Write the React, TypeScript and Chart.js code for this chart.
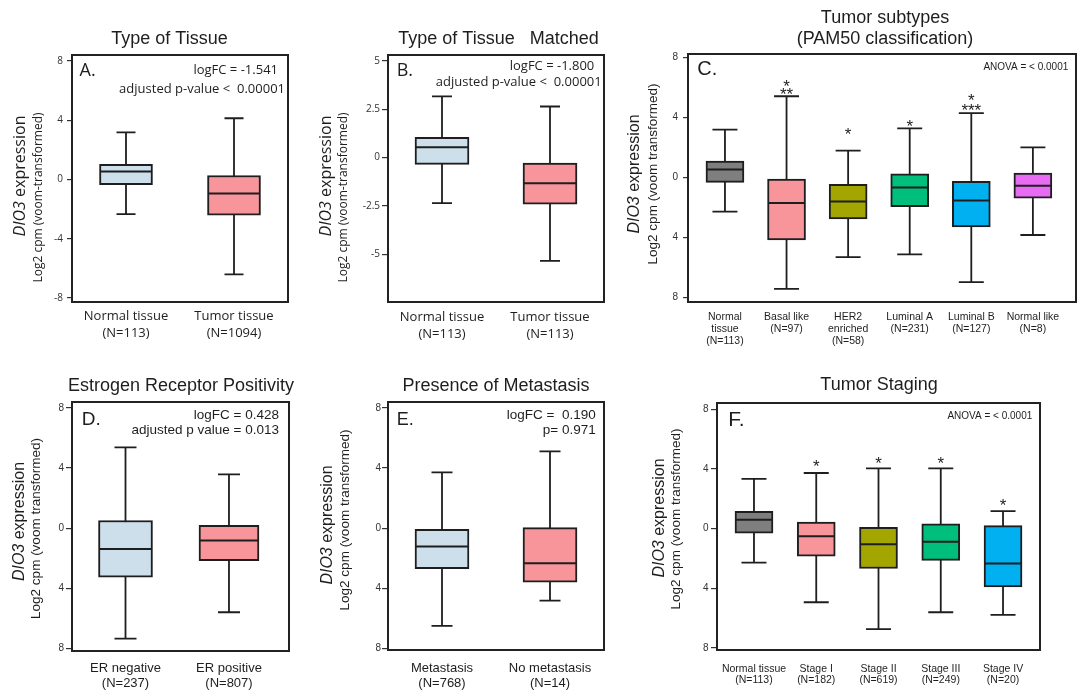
import React, { useEffect, useRef } from "react";
import { Chart, registerables } from "chart.js";
Chart.register(...registerables);

// ---------- Panel A: Type of Tissue ----------
const A_CATS = [["Normal tissue", "(N=113)"], ["Tumor tissue", "(N=1094)"]];
const A_MIN = [-2.34, -6.4];
const A_Q1 = [-0.34, -2.41];
const A_MED = [0.54, -0.95];
const A_Q3 = [1.03, 0.27];
const A_MAX = [3.18, 4.14];
const A_TICKS = [8, 4, 0, -4, -8];
const A_TICK_LABELS = ["8", "4", "0", "-4", "-8"];

// ---------- Panel B: Type of Tissue Matched ----------
const B_CATS = [["Normal tissue", "(N=113)"], ["Tumor tissue", "(N=113)"]];
const B_MIN = [-2.35, -5.34];
const B_Q1 = [-0.35, -2.4];
const B_MED = [0.53, -1.33];
const B_Q3 = [1.05, -0.28];
const B_MAX = [3.16, 2.64];
const B_TICKS = [5, 2.5, 0, -2.5, -5];
const B_TICK_LABELS = ["5", "2.5", "0", "-2.5", "-5"];

// ---------- Panel C: Tumor subtypes (PAM50) ----------
const C_CATS = [
  ["Normal", "tissue", "(N=113)"],
  ["Basal like", "(N=97)"],
  ["HER2", "enriched", "(N=58)"],
  ["Luminal A", "(N=231)"],
  ["Luminal B", "(N=127)"],
  ["Normal like", "(N=8)"],
];
const C_MIN = [-2.28, -7.43, -5.31, -5.13, -6.99, -3.84];
const C_Q1 = [-0.33, -4.17, -2.77, -1.94, -3.3, -1.38];
const C_MED = [0.54, -1.7, -1.61, -0.67, -1.54, -0.56];
const C_Q3 = [1.09, -0.11, -0.45, 0.25, -0.25, 0.29];
const C_MAX = [3.19, 5.42, 1.79, 3.28, 4.29, 2.01];
const C_TICKS = [8, 4, 0, -4, -8];
const C_TICK_LABELS = ["8", "4", "0", "4", "8"];
const C_STAR_CATS = [1, 1, 2, 3, 4, 4];
const C_STAR_TEXT = ["*", "**", "*", "*", "*", "***"];
const C_STAR_Y = [6.38, 5.83, 3.15, 3.68, 5.42, 4.75];

// ---------- Panel D: Estrogen Receptor Positivity ----------
const D_CATS = [["ER negative", "(N=237)"], ["ER positive", "(N=807)"]];
const D_MIN = [-7.36, -5.6];
const D_Q1 = [-3.27, -2.16];
const D_MED = [-1.38, -0.82];
const D_Q3 = [0.51, 0.18];
const D_MAX = [5.38, 3.58];
const D_TICKS = [8, 4, 0, -4, -8];
const D_TICK_LABELS = ["8", "4", "0", "4", "8"];

// ---------- Panel E: Presence of Metastasis ----------
const E_CATS = [["Metastasis", "(N=768)"], ["No metastasis", "(N=14)"]];
const E_MIN = [-6.51, -4.82];
const E_Q1 = [-2.69, -3.6];
const E_MED = [-1.22, -2.33];
const E_Q3 = [-0.07, 0.04];
const E_MAX = [3.71, 5.11];
const E_TICKS = [8, 4, 0, -4, -8];
const E_TICK_LABELS = ["8", "4", "0", "4", "8"];

// ---------- Panel F: Tumor Staging ----------
const F_CATS = [
  ["Normal tissue", "(N=113)"],
  ["Stage I", "(N=182)"],
  ["Stage II", "(N=619)"],
  ["Stage III", "(N=249)"],
  ["Stage IV", "(N=20)"],
];
const F_MIN = [-2.27, -4.93, -6.73, -5.6, -5.78];
const F_Q1 = [-0.31, -1.84, -2.67, -2.13, -3.91];
const F_MED = [0.6, -0.51, -1.04, -0.87, -2.34];
const F_Q3 = [1.16, 0.44, 0.09, 0.33, 0.2];
const F_MAX = [3.33, 3.73, 4.04, 4.04, 1.18];
const F_TICKS = [8, 4, 0, -4, -8];
const F_TICK_LABELS = ["8", "4", "0", "4", "8"];
const F_STAR_CATS = [1, 2, 3, 4];
const F_STAR_TEXT = ["*", "*", "*", "*"];
const F_STAR_Y = [4.49, 4.64, 4.64, 1.82];

const OPEN = '"Open Sans", sans-serif';
const ARIAL = '"Liberation Sans", Arial, sans-serif';
const PAIR = ["#cddfea", "#f8959a"];
const SUB = ["#7f7f7f", "#f8959a", "#a3a500", "#00bf7d", "#00b0f0", "#e76bf3"];
const Y_W = 40;
const STAR_SIZE = 17;

type Txt = { t: string; x: number; y: number; size: number; family: string; align: CanvasTextAlign };
type Cfg = {
  id: string;
  canvas: { x: number; y: number; w: number; h: number };
  frame: { l: number; t: number; r: number; b: number };
  xMin: number; xMax: number; yMin: number; yMax: number;
  cats: string[][]; lo: number[]; q1: number[]; med: number[]; q3: number[]; hi: number[];
  colors: string[]; boxW: number[]; capW: number;
  yTicks: number[]; yTickLabels: string[];
  family: string; tickSize: number; tickLen: number; tickPad: number;
  xFamily: string; xSize: number; xLineHeight: number; xPad: number;
  texts: Txt[];
  yTitle: { x1: number; y1: number; x2: number; y2: number; s1: number; s2: number; family: string; line2: string };
  starCats?: number[]; starText?: string[]; starY?: number[];
};

const PANELS: Cfg[] = [
  {
    id: "A", canvas: { x: 0, y: 0, w: 305, h: 350 }, frame: { l: 72, t: 55, r: 288, b: 302 },
    xMin: -0.5, xMax: 1.5, yMin: -8.27, yMax: 8.41,
    cats: A_CATS, lo: A_MIN, q1: A_Q1, med: A_MED, q3: A_Q3, hi: A_MAX,
    colors: PAIR, boxW: [53, 53], capW: 19, yTicks: A_TICKS, yTickLabels: A_TICK_LABELS,
    family: OPEN, tickSize: 10, tickLen: 5, tickPad: 4,
    xFamily: OPEN, xSize: 13, xLineHeight: 1.36, xPad: 5,
    texts: [
      { t: "Type of Tissue", x: 169.5, y: 44, size: 18, family: ARIAL, align: "center" },
      { t: "A.", x: 79.5, y: 76, size: 18, family: OPEN, align: "left" },
      { t: "logFC = -1.541", x: 278, y: 74, size: 13, family: OPEN, align: "right" },
      { t: "adjusted p-value <  0.00001", x: 285, y: 93, size: 13, family: OPEN, align: "right" },
    ],
    yTitle: { x1: 20, y1: 176, x2: 38.5, y2: 197.5, s1: 16, s2: 12, family: OPEN, line2: "Log2 cpm (voom-transformed)" },
  },
  {
    id: "B", canvas: { x: 305, y: 0, w: 310, h: 350 }, frame: { l: 388, t: 55, r: 604, b: 302 },
    xMin: -0.5, xMax: 1.5, yMin: -7.46, yMax: 5.3,
    cats: B_CATS, lo: B_MIN, q1: B_Q1, med: B_MED, q3: B_Q3, hi: B_MAX,
    colors: PAIR, boxW: [54, 54], capW: 20, yTicks: B_TICKS, yTickLabels: B_TICK_LABELS,
    family: OPEN, tickSize: 10, tickLen: 6, tickPad: 2,
    xFamily: OPEN, xSize: 13, xLineHeight: 1.36, xPad: 6,
    texts: [
      { t: "Type of Tissue   Matched", x: 498.5, y: 44, size: 18, family: ARIAL, align: "center" },
      { t: "B.", x: 396.7, y: 76, size: 18, family: OPEN, align: "left" },
      { t: "logFC = -1.800", x: 594.3, y: 69.5, size: 13, family: OPEN, align: "right" },
      { t: "adjusted p-value <  0.00001", x: 601.7, y: 85.5, size: 13, family: OPEN, align: "right" },
    ],
    yTitle: { x1: 326, y1: 176, x2: 344, y2: 197.5, s1: 16, s2: 12, family: OPEN, line2: "Log2 cpm (voom-transformed)" },
  },
  {
    id: "C", canvas: { x: 615, y: 0, w: 469, h: 350 }, frame: { l: 688, t: 54, r: 1076, b: 302 },
    xMin: -0.6, xMax: 5.7, yMin: -8.31, yMax: 8.24,
    cats: C_CATS, lo: C_MIN, q1: C_Q1, med: C_MED, q3: C_Q3, hi: C_MAX,
    colors: SUB, boxW: [38, 38, 38, 38, 38, 38], capW: 25, yTicks: C_TICKS, yTickLabels: C_TICK_LABELS,
    family: ARIAL, tickSize: 10, tickLen: 5, tickPad: 5,
    xFamily: ARIAL, xSize: 10.5, xLineHeight: 1.143, xPad: 9,
    texts: [
      { t: "Tumor subtypes", x: 885, y: 23, size: 18, family: ARIAL, align: "center" },
      { t: "(PAM50 classification)", x: 885, y: 44, size: 18, family: ARIAL, align: "center" },
      { t: "C.", x: 697.3, y: 75, size: 20, family: ARIAL, align: "left" },
      { t: "ANOVA = < 0.0001", x: 1068.3, y: 69.5, size: 10, family: ARIAL, align: "right" },
    ],
    yTitle: { x1: 635, y1: 174, x2: 653, y2: 174, s1: 16, s2: 13.5, family: ARIAL, line2: "Log2 cpm (voom transformed)" },
    starCats: C_STAR_CATS, starText: C_STAR_TEXT, starY: C_STAR_Y,
  },
  {
    id: "D", canvas: { x: 0, y: 350, w: 305, h: 341 }, frame: { l: 72, t: 402, r: 289, b: 651 },
    xMin: -0.517, xMax: 1.58, yMin: -8.18, yMax: 8.4,
    cats: D_CATS, lo: D_MIN, q1: D_Q1, med: D_MED, q3: D_Q3, hi: D_MAX,
    colors: PAIR, boxW: [54, 60], capW: 22, yTicks: D_TICKS, yTickLabels: D_TICK_LABELS,
    family: ARIAL, tickSize: 10, tickLen: 6, tickPad: 2,
    xFamily: ARIAL, xSize: 13, xLineHeight: 1.13, xPad: 10,
    texts: [
      { t: "Estrogen Receptor Positivity", x: 181, y: 390.7, size: 18, family: ARIAL, align: "center" },
      { t: "D.", x: 81.7, y: 425, size: 19, family: ARIAL, align: "left" },
      { t: "logFC = 0.428", x: 279, y: 419, size: 13.5, family: ARIAL, align: "right" },
      { t: "adjusted p value = 0.013", x: 279, y: 434, size: 13.5, family: ARIAL, align: "right" },
    ],
    yTitle: { x1: 20, y1: 521.5, x2: 36.5, y2: 528.5, s1: 16, s2: 13.5, family: ARIAL, line2: "Log2 cpm (voom transformed)" },
  },
  {
    id: "E", canvas: { x: 305, y: 350, w: 310, h: 341 }, frame: { l: 388, t: 402, r: 604, b: 650 },
    xMin: -0.5, xMax: 1.5, yMin: -8.11, yMax: 8.4,
    cats: E_CATS, lo: E_MIN, q1: E_Q1, med: E_MED, q3: E_Q3, hi: E_MAX,
    colors: PAIR, boxW: [54, 54], capW: 21, yTicks: E_TICKS, yTickLabels: E_TICK_LABELS,
    family: ARIAL, tickSize: 10, tickLen: 6, tickPad: 1,
    xFamily: ARIAL, xSize: 13, xLineHeight: 1.13, xPad: 11,
    texts: [
      { t: "Presence of Metastasis", x: 496, y: 391, size: 18, family: ARIAL, align: "center" },
      { t: "E.", x: 396.7, y: 425, size: 18, family: ARIAL, align: "left" },
      { t: "logFC =  0.190", x: 595.7, y: 419, size: 13.5, family: ARIAL, align: "right" },
      { t: "p= 0.971", x: 595.7, y: 434, size: 13.5, family: ARIAL, align: "right" },
    ],
    yTitle: { x1: 328, y1: 525, x2: 345, y2: 520, s1: 16, s2: 13.5, family: ARIAL, line2: "Log2 cpm (voom transformed)" },
  },
  {
    id: "F", canvas: { x: 615, y: 350, w: 469, h: 341 }, frame: { l: 717, t: 403, r: 1040, b: 650 },
    xMin: -0.594, xMax: 4.594, yMin: -8.13, yMax: 8.42,
    cats: F_CATS, lo: F_MIN, q1: F_Q1, med: F_MED, q3: F_Q3, hi: F_MAX,
    colors: SUB.slice(0, 5), boxW: [38, 38, 38, 38, 38], capW: 25, yTicks: F_TICKS, yTickLabels: F_TICK_LABELS,
    family: ARIAL, tickSize: 10, tickLen: 6, tickPad: 2.5,
    xFamily: ARIAL, xSize: 10.5, xLineHeight: 1.114, xPad: 13,
    texts: [
      { t: "Tumor Staging", x: 879, y: 389.5, size: 18, family: ARIAL, align: "center" },
      { t: "F.", x: 728.3, y: 425.5, size: 21, family: ARIAL, align: "left" },
      { t: "ANOVA = < 0.0001", x: 1032.3, y: 419, size: 10, family: ARIAL, align: "right" },
    ],
    yTitle: { x1: 660, y1: 518, x2: 676, y2: 519, s1: 16, s2: 13.5, family: ARIAL, line2: "Log2 cpm (voom transformed)" },
    starCats: F_STAR_CATS, starText: F_STAR_TEXT, starY: F_STAR_Y,
  },
];

const INK = "#1e1e1e";

function drawRotated(ctx: CanvasRenderingContext2D, cx: number, cy: number,
  parts: { t: string; italic: boolean }[], size: number, family: string) {
  ctx.save();
  ctx.translate(cx, cy);
  ctx.rotate(-Math.PI / 2);
  ctx.textBaseline = "middle";
  ctx.textAlign = "left";
  ctx.fillStyle = INK;
  const widths = parts.map((p) => {
    ctx.font = `${p.italic ? "italic " : ""}${size}px ${family}`;
    return ctx.measureText(p.t).width;
  });
  const total = widths.reduce((a, b) => a + b, 0);
  let x = -total / 2;
  parts.forEach((p, i) => {
    ctx.font = `${p.italic ? "italic " : ""}${size}px ${family}`;
    ctx.fillText(p.t, x, 0);
    x += widths[i];
  });
  ctx.restore();
}

function Panel({ cfg }: { cfg: Cfg }) {
  const ref = useRef<HTMLCanvasElement | null>(null);
  useEffect(() => {
    const c = cfg.canvas;
    const f = cfg.frame;
    const xH = c.y + c.h - f.b;
    const pad = {
      left: f.l - c.x - Y_W,
      top: f.t - c.y,
      right: c.x + c.w - f.r,
      bottom: 0,
    };
    const plugin = {
      id: "boxplot" + cfg.id,
      beforeDatasetsDraw(chart: any) {
        const ctx = chart.ctx as CanvasRenderingContext2D;
        const xs = chart.scales.x;
        const ys = chart.scales.y;
        ctx.save();
        ctx.strokeStyle = INK;
        ctx.lineWidth = 1.8;
        cfg.cats.forEach((_, i) => {
          const x = xs.getPixelForValue(i);
          const yHi = ys.getPixelForValue(cfg.hi[i]);
          const yLo = ys.getPixelForValue(cfg.lo[i]);
          const h = cfg.capW / 2;
          ctx.beginPath();
          ctx.moveTo(x, yHi);
          ctx.lineTo(x, yLo);
          ctx.moveTo(x - h, yHi);
          ctx.lineTo(x + h, yHi);
          ctx.moveTo(x - h, yLo);
          ctx.lineTo(x + h, yLo);
          ctx.stroke();
        });
        ctx.restore();
      },
      afterDatasetsDraw(chart: any) {
        const ctx = chart.ctx as CanvasRenderingContext2D;
        const xs = chart.scales.x;
        const ys = chart.scales.y;
        const area = chart.chartArea;
        ctx.save();
        // medians
        ctx.strokeStyle = INK;
        ctx.lineWidth = 2;
        cfg.cats.forEach((_, i) => {
          const x = xs.getPixelForValue(i);
          const y = ys.getPixelForValue(cfg.med[i]);
          const h = cfg.boxW[i] / 2;
          ctx.beginPath();
          ctx.moveTo(x - h + 1, y);
          ctx.lineTo(x + h - 1, y);
          ctx.stroke();
        });
        // frame
        ctx.lineWidth = 2;
        ctx.strokeStyle = "#222";
        ctx.strokeRect(area.left, area.top, area.right - area.left, area.bottom - area.top);
        // significance stars
        if (cfg.starCats && cfg.starText && cfg.starY) {
          ctx.fillStyle = INK;
          ctx.font = `${STAR_SIZE}px ${ARIAL}`;
          ctx.textAlign = "center";
          ctx.textBaseline = "alphabetic";
          cfg.starCats.forEach((ci, k) => {
            const x = xs.getPixelForValue(ci);
            const y = ys.getPixelForValue(cfg.starY![k]) + 0.585 * STAR_SIZE;
            ctx.fillText(cfg.starText![k], x, y);
          });
        }
        // texts
        cfg.texts.forEach((t) => {
          ctx.fillStyle = INK;
          ctx.font = `${t.size}px ${t.family}`;
          ctx.textAlign = t.align;
          ctx.textBaseline = "alphabetic";
          ctx.fillText(t.t, t.x - c.x, t.y - c.y);
        });
        // y titles
        const yt = cfg.yTitle;
        drawRotated(ctx, yt.x1 - c.x, yt.y1 - c.y,
          [{ t: "DIO3", italic: true }, { t: " expression", italic: false }], yt.s1, yt.family);
        drawRotated(ctx, yt.x2 - c.x, yt.y2 - c.y,
          [{ t: yt.line2, italic: false }], yt.s2, yt.family);
        ctx.restore();
      },
    };

    const chart = new Chart(ref.current as HTMLCanvasElement, {
      type: "bar",
      data: {
        datasets: cfg.cats.map((_, i) => ({
          data: [{ x: i, y: [cfg.q1[i], cfg.q3[i]] }],
          backgroundColor: cfg.colors[i],
          borderColor: INK,
          borderWidth: 2,
          borderSkipped: false,
          barThickness: cfg.boxW[i],
          maxBarThickness: cfg.boxW[i],
          grouped: false,
        })) as any,
      },
      options: {
        animation: false,
        responsive: false,
        maintainAspectRatio: false,
        events: [],
        layout: { padding: pad },
        plugins: { legend: { display: false }, tooltip: { enabled: false }, title: { display: false } },
        scales: {
          x: {
            type: "linear",
            min: cfg.xMin,
            max: cfg.xMax,
            offset: false,
            bounds: "data",
            afterBuildTicks: (s: any) => {
              s.ticks = cfg.cats.map((_, i) => ({ value: i }));
            },
            afterFit: (s: any) => {
              s.height = xH;
            },
            grid: { display: false, drawTicks: false },
            border: { display: false },
            ticks: {
              autoSkip: false,
              maxRotation: 0,
              minRotation: 0,
              padding: cfg.xPad,
              color: INK,
              font: { family: cfg.xFamily, size: cfg.xSize, lineHeight: cfg.xLineHeight },
              callback: (_v: any, i: number) => cfg.cats[i],
            },
          },
          y: {
            type: "linear",
            min: cfg.yMin,
            max: cfg.yMax,
            bounds: "data",
            afterBuildTicks: (s: any) => {
              s.ticks = cfg.yTicks.map((v) => ({ value: v }));
            },
            afterFit: (s: any) => {
              s.width = Y_W;
            },
            grid: { drawOnChartArea: false, drawTicks: true, tickLength: cfg.tickLen, color: "#333", lineWidth: 1.2 },
            border: { display: false },
            ticks: {
              autoSkip: false,
              padding: cfg.tickPad,
              color: "#333",
              font: { family: cfg.family, size: cfg.tickSize },
              callback: (_v: any, i: number) => cfg.yTickLabels[i],
            },
          },
        },
      } as any,
      plugins: [plugin],
    });
    return () => chart.destroy();
  }, [cfg]);
  return (
    <canvas
      ref={ref}
      width={cfg.canvas.w}
      height={cfg.canvas.h}
      style={{ position: "absolute", left: cfg.canvas.x, top: cfg.canvas.y, width: cfg.canvas.w, height: cfg.canvas.h }}
    />
  );
}

export default function App() {
  return (
    <div style={{ position: "absolute", left: 0, top: 0, width: 1084, height: 691, background: "#fff", overflow: "hidden" }}>
      {PANELS.map((p) => (
        <Panel key={p.id} cfg={p} />
      ))}
    </div>
  );
}
